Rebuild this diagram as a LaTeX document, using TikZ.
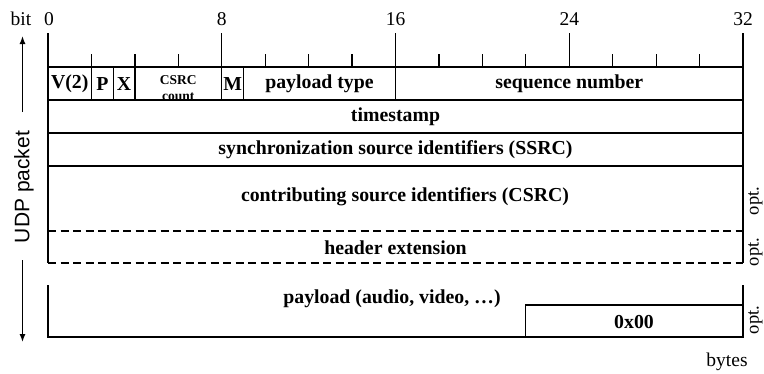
\documentclass[tikz,border=0pt]{standalone}
\usepackage{fontspec}
\setmainfont{Liberation Serif}
\setsansfont{Liberation Sans}
\usetikzlibrary{arrows.meta}
\begin{document}
\begin{tikzpicture}[x=1pt,y=-1pt,
  rule/.style={line width=1.3pt},
  dashrule/.style={line width=1.3pt,dash pattern=on 8pt off 4.5pt},
  field/.style={font=\fontsize{19.8}{22}\selectfont\bfseries,inner sep=0pt},
  smallfield/.style={font=\fontsize{13.5}{16}\selectfont\bfseries,inner sep=0pt,align=center},
  bitnum/.style={font=\fontsize{19.5}{20}\selectfont,inner sep=0pt},
  optlabel/.style={font=\fontsize{18.5}{19}\selectfont,inner sep=0pt,rotate=90},
  size arrow/.style={line width=1.3pt,-{Latex[length=8pt,width=6pt]}}]
\useasboundingbox (0,0) rectangle (764,373);
\def\bw{21.72}
% bit ruler: long ticks on byte boundaries, short ticks every two bits
\foreach \b in {0,2,...,32}{
  \pgfmathsetmacro\xx{48+\b*\bw}
  \pgfmathtruncatemacro\isbyte{mod(\b,8)==0}
  \ifnum\isbyte=1
    \draw[rule] (\xx,33) -- (\xx,67);
  \else
    \draw[rule] (\xx,54) -- (\xx,67);
  \fi
}
\node[bitnum] (bitlbl) at (21,19) {bit};
\node[bitnum] (n0) at (49,19) {0};
\node[bitnum] (n8) at (221.8,19) {8};
\node[bitnum] (n16) at (395.5,19) {16};
\node[bitnum] (n24) at (569.3,19) {24};
\node[bitnum] (n32) at (743,19) {32};
% header frame
\draw[rule] (48,67) -- (743,67);
\draw[rule] (48,100) -- (743,100);
\draw[rule] (48,133) -- (743,133);
\draw[rule] (48,166) -- (743,166);
\draw[rule] (48,67) -- (48,263);
\draw[rule] (743,67) -- (743,263);
\draw[dashrule] (48,231) -- (743,231);
\draw[dashrule] (48,263) -- (743,263);
% first word fields
\foreach \b in {2,3,4,8,9,16}{
  \draw[rule] ({48+\b*\bw},67) -- ({48+\b*\bw},100);
}
\node[field] (ver) at ({48+1*\bw},84) {V(2)};
\node[field] (pad) at ({48+2.5*\bw},84) {P};
\node[field] (ext) at ({48+3.5*\bw},84) {X};
\node[smallfield] (cc) at ({48+6*\bw},88.5) {CSRC\\count};
\node[field] (mark) at ({48+8.5*\bw},84) {M};
\node[field] (pt) at ({48+12.5*\bw},84) {payload type};
\node[field] (seq) at ({48+24*\bw},84) {sequence number};
\node[field] (ts) at (395.5,117) {timestamp};
\node[field] (ssrc) at (395.5,150) {synchronization source identifiers (SSRC)};
\node[field] (csrc) at (405,197) {contributing source identifiers (CSRC)};
\node[field] (hext) at (395.5,248) {header extension};
% payload block
\draw[rule] (48,285) -- (48,337) -- (743,337) -- (743,285);
\draw[rule] ({48+22*\bw},337) -- ({48+22*\bw},305) -- (743,305);
\node[field] (pl) at (392,299) {payload (audio, video, \dots)};
\node[field] (pad0) at (634,322) {0x00};
% optional markers
\node[optlabel] (opt1) at (755.5,201) {opt.};
\node[optlabel] (opt2) at (755.5,252) {opt.};
\node[optlabel] (opt3) at (755.5,320) {opt.};
\node[bitnum] (bytes) at (727,362) {bytes};
% packet extent
\node[font=\sffamily\fontsize{21}{22}\selectfont,rotate=90,inner sep=0pt] (udp) at (24,187) {UDP packet};
\coordinate (udptop) at (22.5,36);
\coordinate (udpbot) at (22.5,342);
\draw[size arrow] (22.5,112) -- (udptop);
\draw[size arrow] (22.5,260) -- (udpbot);
\end{tikzpicture}
\end{document}
